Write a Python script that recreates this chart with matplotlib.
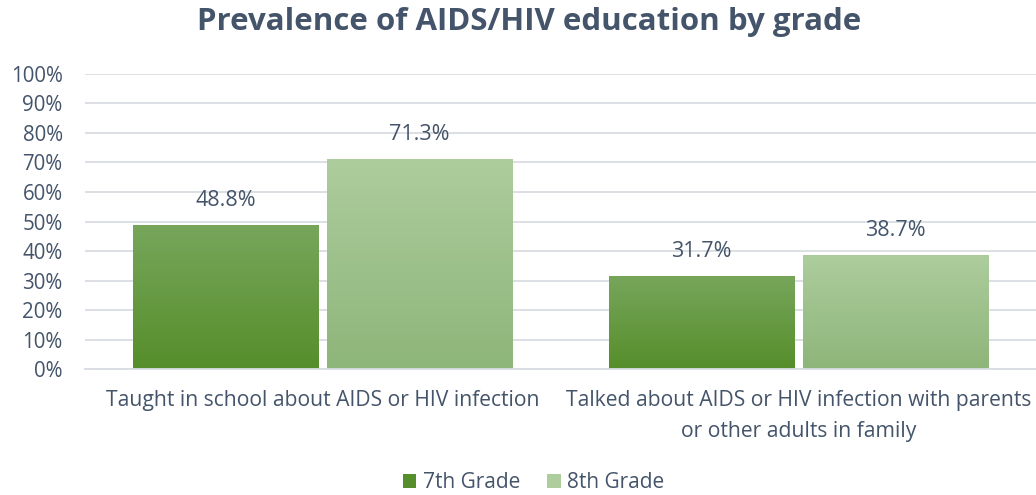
import matplotlib
matplotlib.use("Agg")
import matplotlib.pyplot as plt
import numpy as np
from matplotlib.patches import Patch

plt.rcParams['font.family'] = ['Open Sans', 'DejaVu Sans']

# data
categories = ["Taught in school about AIDS or HIV infection",
              "Talked about AIDS or HIV infection with parents\nor other adults in family"]
grade7 = [48.8, 31.7]
grade8 = [71.3, 38.7]
series_names = ["7th Grade", "8th Grade"]

text_col = "#44546a"
grid_col = "#d9dde3"
# (top colour, bottom colour) of each series gradient
grads = [("#77a65b", "#568e2b"), ("#adcd9d", "#8eb57a")]

fig = plt.figure(figsize=(10.36, 4.95), dpi=100)
ax = fig.add_axes([0.082, 0.254, 0.918, 0.597])

x = np.arange(len(categories))
width = 0.39
gap = 0.018
offsets = [-(width + gap) / 2, (width + gap) / 2]

for vals, off, (ctop, cbot) in zip([grade7, grade8], offsets, grads):
    bars = ax.bar(x + off, vals, width, color="none", zorder=2)
    c1 = np.array(matplotlib.colors.to_rgb(cbot))
    c2 = np.array(matplotlib.colors.to_rgb(ctop))
    t = np.linspace(0, 1, 100)[:, None]
    img = (c1 * (1 - t) + c2 * t)[:, None, :]
    for b, v in zip(bars, vals):
        x0 = b.get_x()
        im = ax.imshow(img, extent=[x0, x0 + b.get_width(), 0, v], origin="lower",
                       aspect="auto", zorder=2, interpolation="bilinear")
        im.set_clip_path(b)
        ax.text(x0 + b.get_width() / 2, v + 4.6, f"{v:.1f}%", ha="center", va="bottom",
                fontsize=15.5, color=text_col)

ax.set_xlim(-0.5, 1.5)
ax.set_ylim(0, 100)
ax.set_yticks(np.arange(0, 101, 10))
ax.set_yticklabels([f"{v}%" for v in range(0, 101, 10)])
ax.set_xticks(x)
ax.set_xticklabels(categories, linespacing=1.62)
ax.tick_params(axis="y", length=0, labelsize=14.8, labelcolor=text_col, pad=16)
ax.tick_params(axis="x", length=0, labelsize=15.2, labelcolor=text_col, pad=15)
ax.grid(axis="y", color=grid_col, linewidth=1.3, zorder=0)
ax.set_axisbelow(True)
for s in ["top", "right", "left"]:
    ax.spines[s].set_visible(False)
ax.spines["bottom"].set_color(grid_col)
ax.spines["bottom"].set_linewidth(1.3)

fig.suptitle("Prevalence of AIDS/HIV education by grade", fontsize=22.5, fontweight="bold",
             color=text_col, x=0.511, y=0.985)

handles = [Patch(facecolor=grads[0][1]), Patch(facecolor=grads[1][0])]
fig.legend(handles, series_names, loc="center", bbox_to_anchor=(0.515, 0.025), ncol=2,
           frameon=False, fontsize=15, labelcolor=text_col, handlelength=0.65,
           handleheight=0.65, handletextpad=0.3, columnspacing=1.3)

fig.savefig("out.png", dpi=100)
